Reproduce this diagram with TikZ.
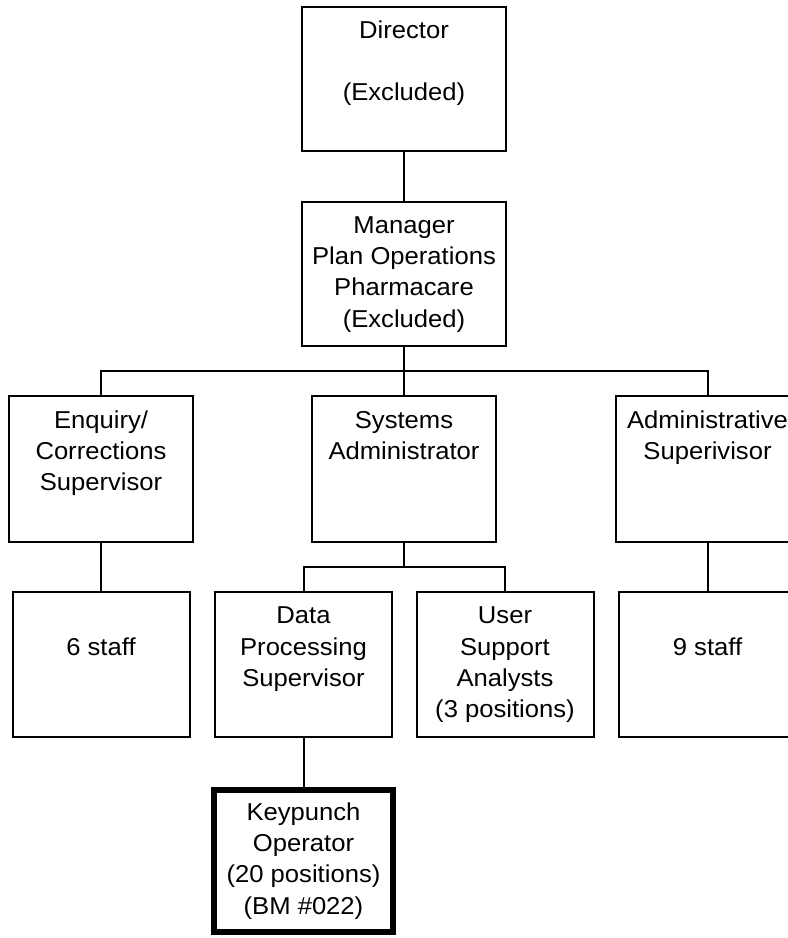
\documentclass[tikz,border=0pt]{standalone}
\usepackage{fontspec}
\setmainfont{Liberation Sans}[FakeStretch=1.05]
\usetikzlibrary{calc}
\tikzset{%
  % Specifications for style of nodes:
         base/.style = {rectangle, draw=black, align=center,
                        text centered,
                        font=\fontsize{18.3pt}{23.5pt}\selectfont},
     headPost/.style = {base, minimum width=153pt, minimum height=108pt},
      supPost/.style = {base, minimum width=138pt, minimum height=109.5pt},
    staffPost/.style = {base, minimum width=132.75pt, minimum height=108.75pt},
    focusPost/.style = {staffPost, minimum width=134.25pt,
                        minimum height=106.5pt, line width=4.5pt},
}

\begin{document}
\begin{tikzpicture}[x=0.75pt, y=-0.75pt, line width=1.5pt]
  \clip (0,0) rectangle (788,938);
  % Specification of nodes (position, etc.)
  \node (director)     [headPost]  at (404,79)      {\strut Director\\ \\(Excluded)\\ \strut};
  \node (manager)      [headPost]  at (404,274)     {\strut Manager\\Plan Operations\\Pharmacare\\(Excluded)\strut};
  \node (enquirySup)   [supPost]   at (101,469)     {\strut Enquiry/\\Corrections\\Supervisor\\ \strut};
  \node (sysAdmin)     [supPost]   at (404,469)     {\strut Systems\\Administrator\\ \\ \strut};
  \node (adminSup)     [supPost]   at (707.5,469)   {\strut Administrative\\Superivisor\\ \\ \strut};
  \node (enquiryStaff) [staffPost] at (101,664.5)   {\strut\\6 staff\\ \\ \strut};
  \node (dataProcSup)  [staffPost] at (303.5,664.5) {\strut Data\\Processing\\Supervisor\\ \strut};
  \node (userSupport)  [staffPost] at (505,664.5)   {\strut User\\Support\\Analysts\\(3 positions)\strut};
  \node (adminStaff)   [staffPost] at (707.5,664.5) {\strut\\9 staff\\ \\ \strut};
  \node (keypunchOp)   [focusPost] at (303.5,861)   {\strut Keypunch\\Operator\\(20 positions)\\(BM \#022)\strut};

  % Specification of lines between nodes specified above
  \coordinate (mgrBar) at ($(manager.south)!0.5!(sysAdmin.north)$);
  \coordinate (sysBar) at ($(sysAdmin.south)!0.5!(dataProcSup.north)$);

  \draw (director) -- (manager);
  \draw (manager) -- (sysAdmin);
  \draw (enquirySup.north) |- (mgrBar) -| (adminSup.north);

  \draw (enquirySup) -- (enquiryStaff);
  \draw (adminSup) -- (adminStaff);
  \draw (sysAdmin.south) -- (sysAdmin.south |- sysBar);
  \draw (dataProcSup.north) |- (sysBar) -| (userSupport.north);
  \draw (dataProcSup) -- (keypunchOp);
\end{tikzpicture}
\end{document}
